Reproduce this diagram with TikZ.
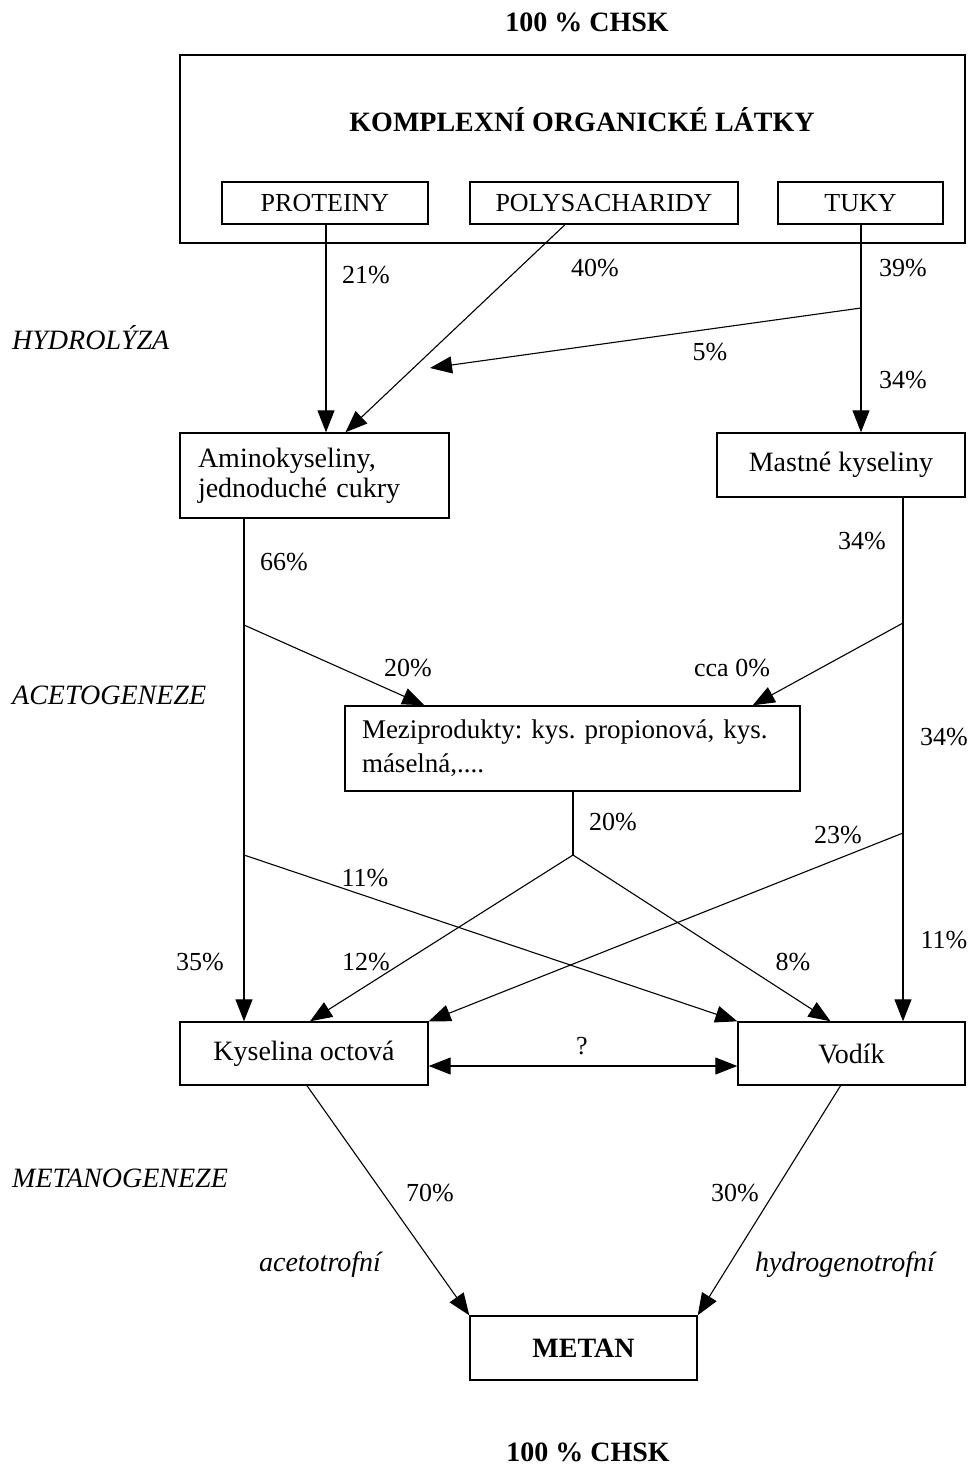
\documentclass[tikz,border=0pt]{standalone}
\usepackage{fontspec}
\setmainfont{Liberation Serif}
\usetikzlibrary{arrows.meta,calc}
\newcommand\myfs{\fontsize{26}{30}\selectfont}
\newcommand\lcfs{\fontsize{28}{30}\selectfont}
\newcommand\mzfs{\fontsize{27}{34}\selectfont}
\frenchspacing
\begin{document}
\begin{tikzpicture}[x=1pt,y=-1pt,
  box/.style={draw,line width=1.4pt,inner sep=0pt,font=\myfs,align=center},
  lbl/.style={inner sep=0pt,font=\myfs},
  phase/.style={inner sep=0pt,font=\lcfs\itshape,anchor=west},
  ttl/.style={inner sep=0pt,font=\lcfs\bfseries},
  arr/.style={-{Triangle[length=22pt,width=17pt]},line width=1.1pt},
  ln/.style={line width=1.1pt}]
\useasboundingbox (0,0) rectangle (972,1466);
% titles
\node[ttl] (top) at (587,22) {100 \% CHSK};
\node[ttl] (bot) at (588,1452) {100 \% CHSK};
% boxes
\node[box,minimum width=785pt,minimum height=188pt] (outer) at (572.5,149) {};
\node[ttl] (kol) at (582,120) {KOMPLEXNÍ ORGANICKÉ LÁTKY};
\node[box,minimum width=206pt,minimum height=42pt] (prot) at (325,203) {PROTEINY};
\node[box,minimum width=268pt,minimum height=42pt] (poly) at (604,203) {POLYSACHARIDY};
\node[box,minimum width=165pt,minimum height=42pt] (tuky) at (860.5,203) {TUKY};
\node[box,font=\lcfs,align=left,inner xsep=18pt,text width=233pt,minimum height=85pt] (amino) at (314.5,475.5) {Aminokyseliny,\\jednoduché cukry};
\node[box,font=\lcfs,minimum width=248pt,minimum height=64pt] (mastne) at (841,465) {Mastné kyseliny};
\node[box,font=\mzfs,align=left,inner xsep=17pt,text width=421pt,minimum height=85pt] (mezi) at (572.5,748.5) {Meziprodukty: kys. propionová, kys.\\máselná,....};
\node[box,font=\lcfs,minimum width=248pt,minimum height=63pt] (kys) at (304,1053.5) {Kyselina octová};
\node[box,font=\lcfs,minimum width=227pt,minimum height=63pt] (vodik) at (851.5,1053.5) {Vodík};
\node[box,font=\lcfs\bfseries,minimum width=227pt,minimum height=64pt] (metan) at (583.5,1348) {METAN};
% phases
\node[phase] (ph1) at (12,338) {HYDROLÝZA};
\node[phase] (ph2) at (12,695) {ACETOGENEZE};
\node[phase] (ph3) at (12,1178) {METANOGENEZE};
% branch coordinates
\coordinate (t1) at (861,308);
\coordinate (a1) at (244,625);
\coordinate (a2) at (244,855);
\coordinate (m1) at (903,623);
\coordinate (m2) at (903,833);
\coordinate (z1) at (573,855);
% hydrolysis
\draw[arr] (prot.south -| 326,0) -- (amino.north -| 326,0);
\draw[arr] ($(poly.south)+(-39,0)$) -- ($(amino.north)+(31,0)$);
\draw[arr] (tuky.south -| 861,0) -- (mastne.north -| 861,0);
\draw[arr] (t1) -- (430,368);
% acetogenesis
\draw[arr] (amino.south -| a1) -- (kys.north -| a1);
\draw[arr] (a1) -- ($(mezi.north west)+(80,0)$);
\draw[arr] (mastne.south -| m1) -- (vodik.north -| m1);
\draw[arr] (m1) -- ($(mezi.north east)+(-48,0)$);
\draw[ln] (mezi.south -| z1) -- (z1);
\draw[arr] (z1) -- ($(kys.north)+(6,0)$);
\draw[arr] (z1) -- ($(vodik.north)+(-21,0)$);
\draw[arr] (a2) -- (vodik.north west);
\draw[arr] (m2) -- (kys.north east);
\draw[arr,{Triangle[length=22pt,width=17pt]}-{Triangle[length=22pt,width=17pt]}] (kys.east |- 0,1066) -- (vodik.west |- 0,1066);
% methanogenesis
\draw[arr] ($(kys.south)+(3,0)$) -- (metan.north west);
\draw[arr] ($(vodik.south)+(-11,0)$) -- (metan.north east);
% labels
\node[lbl] at (366,275) {21\%};
\node[lbl] at (595,268) {40\%};
\node[lbl] at (903,268) {39\%};
\node[lbl] at (710,352) {5\%};
\node[lbl] at (903,380) {34\%};
\node[lbl] at (284,562) {66\%};
\node[lbl] at (862,541) {34\%};
\node[lbl] at (408,668) {20\%};
\node[lbl] at (732,668) {cca 0\%};
\node[lbl] at (944,737) {34\%};
\node[lbl] at (613,822) {20\%};
\node[lbl] at (838,835) {23\%};
\node[lbl] at (365,878) {11\%};
\node[lbl] at (200,962) {35\%};
\node[lbl] at (366,962) {12\%};
\node[lbl] at (793,962) {8\%};
\node[lbl] at (944,940) {11\%};
\node[lbl] at (582,1046) {?};
\node[lbl] at (430,1193) {70\%};
\node[lbl] at (735,1193) {30\%};
\node[lbl,font=\lcfs\itshape] at (320,1265) {acetotrofní};
\node[lbl,font=\lcfs\itshape] at (845,1265) {hydrogenotrofní};
\end{tikzpicture}
\end{document}
